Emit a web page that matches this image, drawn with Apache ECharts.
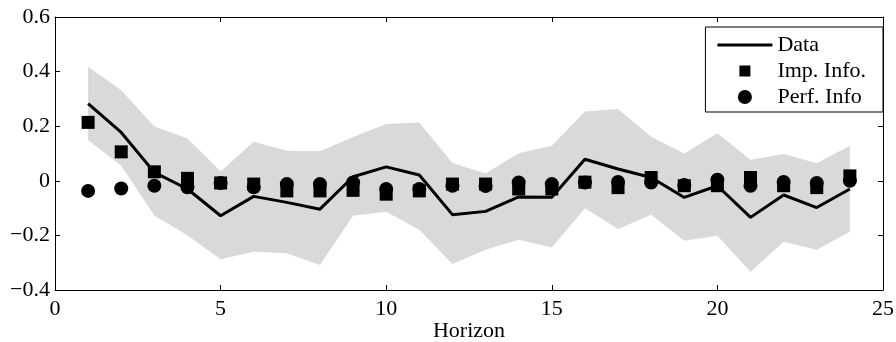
<!DOCTYPE html>
<html>
<head>
<meta charset="utf-8">
<script src="https://cdn.jsdelivr.net/npm/echarts@6/dist/echarts.min.js"></script>
<style>
  html, body { margin: 0; padding: 0; background: #fff; }
  #chart { width: 896px; height: 342px; }
</style>
</head>
<body>
<div id="chart"></div>
<script>
const horizon = [1, 2, 3, 4, 5, 6, 7, 8, 9, 10, 11, 12, 13, 14, 15, 16, 17, 18, 19, 20, 21, 22, 23, 24];
const dataLine = [0.283, 0.177, 0.031, -0.030, -0.128, -0.057, -0.079, -0.104, 0.015, 0.051, 0.021, -0.124,
                  -0.112, -0.059, -0.060, 0.079, 0.043, 0.012, -0.061, -0.018, -0.134, -0.052, -0.098, -0.030];
const bandUpper = [0.418, 0.332, 0.199, 0.155, 0.034, 0.143, 0.110, 0.108, 0.160, 0.208, 0.214, 0.065,
                   0.027, 0.101, 0.128, 0.254, 0.263, 0.161, 0.100, 0.174, 0.077, 0.098, 0.064, 0.128];
const bandLower = [0.149, 0.055, -0.128, -0.199, -0.287, -0.260, -0.265, -0.308, -0.128, -0.113, -0.179, -0.305,
                   -0.253, -0.216, -0.244, -0.101, -0.177, -0.124, -0.220, -0.201, -0.333, -0.223, -0.253, -0.187];
const impInfo = [0.214, 0.106, 0.033, 0.009, -0.008, -0.012, -0.037, -0.037, -0.035, -0.049, -0.037, -0.012,
                 -0.012, -0.030, -0.030, -0.005, -0.025, 0.012, -0.018, -0.018, 0.012, -0.018, -0.025, 0.018];
const perfInfo = [-0.037, -0.028, -0.018, -0.024, -0.008, -0.024, -0.012, -0.012, -0.006, -0.030, -0.030, -0.018,
                  -0.019, -0.006, -0.012, -0.006, -0.004, -0.006, -0.015, 0.004, -0.018, -0.004, -0.008, 0.000];

const font = 'Liberation Serif';
const fontSize = 22;

function pairs(ys) {
    return horizon.map((x, i) => [x, ys[i]]);
}

function yLabel(v) {
    if (Math.abs(v) < 1e-9) return '0';
    return v.toFixed(1).replace('-', '\u2212');
}

// shaded band: one polygon, upper edge left to right then lower edge back
function renderBand(params, api) {
    if (params.dataIndex !== 0) return null;
    const pts = [];
    for (let i = 0; i < horizon.length; i++) pts.push(api.coord([horizon[i], bandUpper[i]]));
    for (let i = horizon.length - 1; i >= 0; i--) pts.push(api.coord([horizon[i], bandLower[i]]));
    return {
        type: 'polygon',
        shape: { points: pts },
        style: { fill: '#d9d9d9', stroke: null }
    };
}

// legend icons (the move-to points keep the icon box 14x14 so the square stays small)
const lineIcon = 'path://M0,0L55,0L55,3L0,3Z';
const squareIcon = 'path://M0,0M14,14M1.5,1.5L12.5,1.5L12.5,12.5L1.5,12.5Z';

const chart = echarts.init(document.getElementById('chart'));

const baseX = {
    type: 'value',
    min: 0,
    max: 25,
    interval: 5,
    axisLine: { show: true, onZero: false, lineStyle: { color: '#000', width: 1 } },
    axisTick: { show: true, inside: true, length: 5, lineStyle: { color: '#000' } },
    splitLine: { show: false }
};
const baseY = {
    type: 'value',
    min: -0.4,
    max: 0.6,
    interval: 0.2,
    axisLine: { show: true, onZero: false, lineStyle: { color: '#000', width: 1 } },
    axisTick: { show: true, inside: true, length: 5, lineStyle: { color: '#000' } },
    splitLine: { show: false }
};

const option = {
    animation: false,
    grid: { left: 55, right: 13, top: 17, bottom: 52, containLabel: false, outerBoundsMode: 'none' },
    legend: {
        orient: 'vertical',
        right: 13,
        top: 27,
        backgroundColor: '#fff',
        borderColor: '#000',
        borderWidth: 1,
        padding: [7, 17, 4, 12],
        itemWidth: 55,
        itemHeight: 14,
        itemGap: 4,
        symbolKeepAspect: true,
        textStyle: { fontFamily: font, fontSize: fontSize, lineHeight: 22, color: '#000' },
        data: [
            { name: 'Data', icon: lineIcon },
            { name: 'Imp. Info.', icon: squareIcon },
            { name: 'Perf. Info', icon: 'circle' }
        ]
    },
    xAxis: [
        Object.assign({}, baseX, {
            position: 'bottom',
            name: 'Horizon',
            nameLocation: 'middle',
            nameGap: 30,
            nameMoveOverlap: false,
            nameTextStyle: { fontFamily: font, fontSize: fontSize, color: '#000' },
            axisLabel: { fontFamily: font, fontSize: fontSize, color: '#000', margin: 8 }
        }),
        Object.assign({}, baseX, { position: 'top', axisLabel: { show: false } })
    ],
    yAxis: [
        Object.assign({}, baseY, {
            position: 'left',
            axisLabel: {
                fontFamily: font, fontSize: fontSize, color: '#000', margin: 5,
                padding: [6, 0, 0, 0], formatter: yLabel
            }
        }),
        Object.assign({}, baseY, { position: 'right', axisLabel: { show: false } })
    ],
    series: [
        {
            name: 'band',
            type: 'custom',
            renderItem: renderBand,
            data: horizon,
            encode: { x: 0 },
            silent: true,
            z: 1
        },
        {
            name: 'Data',
            type: 'line',
            data: pairs(dataLine),
            symbol: 'none',
            lineStyle: { color: '#000', width: 3 },
            itemStyle: { color: '#000' },
            z: 3
        },
        {
            name: 'Imp. Info.',
            type: 'scatter',
            data: pairs(impInfo),
            symbol: 'rect',
            symbolSize: 13,
            itemStyle: { color: '#000', opacity: 1 },
            z: 4
        },
        {
            name: 'Perf. Info',
            type: 'scatter',
            data: pairs(perfInfo),
            symbol: 'circle',
            symbolSize: 14,
            itemStyle: { color: '#000', opacity: 1 },
            z: 5
        }
    ]
};

chart.setOption(option);
</script>
</body>
</html>
